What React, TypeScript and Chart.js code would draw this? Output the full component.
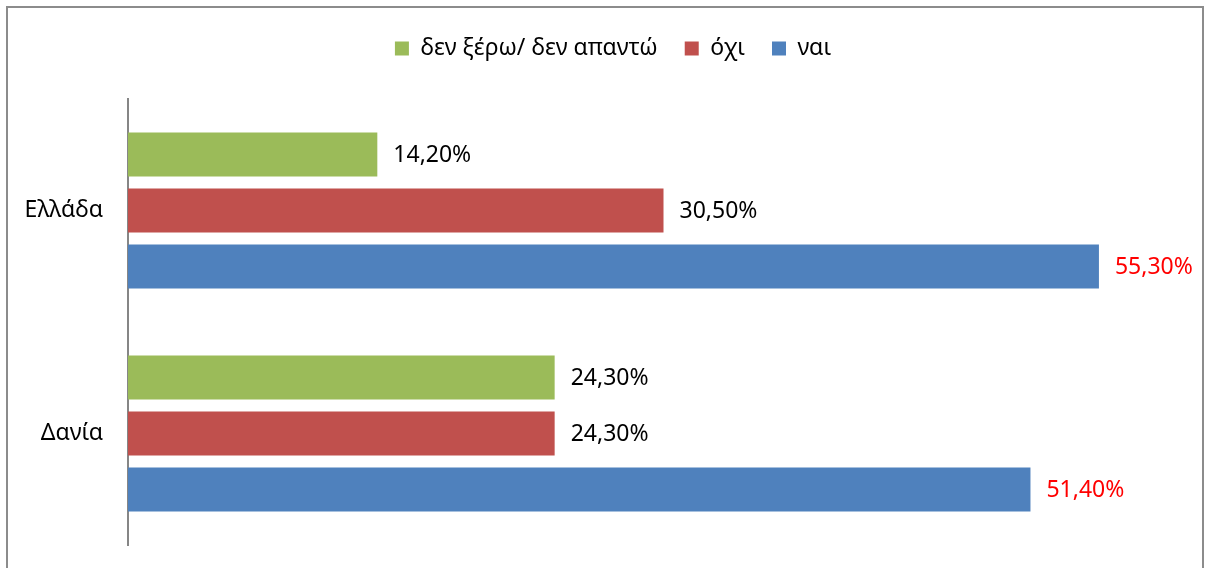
import React, { useEffect, useRef } from "react";
import { Chart, registerables } from "chart.js";

Chart.register(...registerables);

const categories = ["Ελλάδα", "Δανία"];
const seriesNames = ["δεν ξέρω/ δεν απαντώ", "όχι", "ναι"];
const dontKnowValues = [14.2, 24.3];
const noValues = [30.5, 24.3];
const yesValues = [55.3, 51.4];
const seriesColors = ["#9BBB59", "#C0504D", "#4F81BD"];
const labelColors = ["#000000", "#000000", "#FF0000"];

const FONT = "'Noto Sans', 'DejaVu Sans', sans-serif";

const valueLabels = {
  id: "valueLabels",
  afterDatasetsDraw(chart: any) {
    const ctx = chart.ctx;
    ctx.save();
    ctx.font = `23px ${FONT}`;
    ctx.textAlign = "left";
    ctx.textBaseline = "middle";
    chart.data.datasets.forEach((ds: any, di: number) => {
      const meta = chart.getDatasetMeta(di);
      meta.data.forEach((el: any, i: number) => {
        const v = ds.data[i] as number;
        ctx.fillStyle = labelColors[di];
        ctx.fillText(v.toFixed(2).replace(".", ",") + "%", el.x + 16, el.y + 1);
      });
    });
    ctx.restore();
  },
};

export default function App() {
  const ref = useRef<HTMLCanvasElement | null>(null);

  useEffect(() => {
    document.documentElement.style.overflow = "hidden";
    if (!ref.current) return;
    const chart = new Chart(ref.current, {
      type: "bar",
      data: {
        labels: categories,
        datasets: [dontKnowValues, noValues, yesValues].map((d, i) => ({
          label: seriesNames[i],
          data: d,
          backgroundColor: seriesColors[i],
          borderWidth: 0,
          categoryPercentage: 0.753,
          barPercentage: 0.786,
        })),
      },
      options: {
        indexAxis: "y",
        animation: false,
        responsive: true,
        maintainAspectRatio: false,
        layout: { padding: { left: 16, right: 0, top: 2, bottom: 29 } },
        plugins: {
          legend: {
            position: "top",
            align: "center",
            labels: {
              boxWidth: 14,
              boxHeight: 14,
              padding: 27,
              color: "#000000",
              font: { family: FONT, size: 23 },
            },
          },
          tooltip: { enabled: false },
        },
        scales: {
          x: {
            position: "top",
            min: 0,
            max: 61.17,
            grid: { display: false, drawTicks: false },
            border: { display: false },
            ticks: { display: false },
            afterFit: (scale: any) => {
              scale.height = 29;
            },
          },
          y: {
            grid: { display: false, drawTicks: false },
            border: { display: true, color: "#868686", width: 2 },
            ticks: {
              color: "#000000",
              padding: 25,
              font: { family: FONT, size: 23 },
            },
            afterFit: (scale: any) => {
              scale.width = 104;
              scale.paddingTop = 0;
              scale.paddingBottom = 0;
            },
          },
        },
      },
      plugins: [valueLabels],
    });
    return () => chart.destroy();
  }, []);

  return (
    <div
      style={{
        position: "absolute",
        left: 6,
        top: 6,
        width: 1198,
        height: 570,
        border: "2px solid #8C8C8C",
        boxSizing: "border-box",
        background: "#FFFFFF",
      }}
    >
      <div style={{ position: "relative", width: 1194, height: 566 }}>
        <canvas ref={ref} />
      </div>
    </div>
  );
}
